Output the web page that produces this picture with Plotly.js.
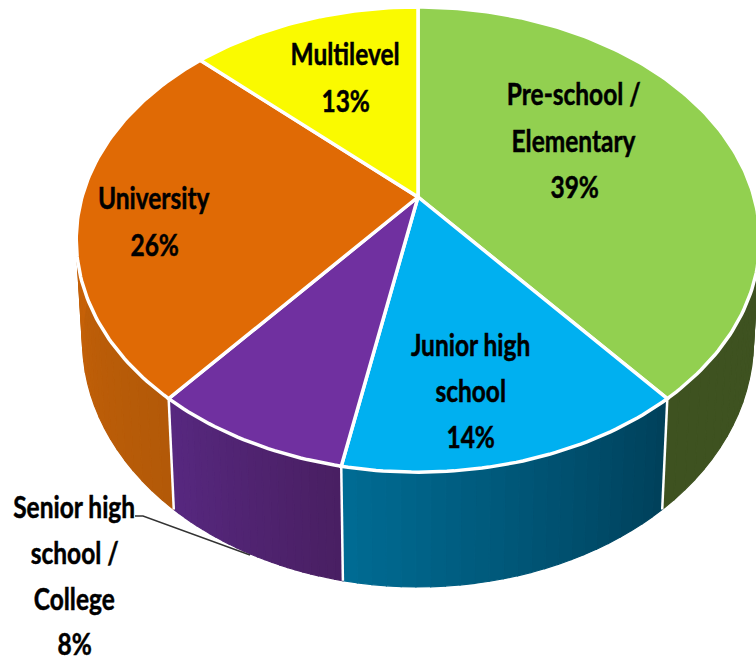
<!DOCTYPE html>
<html>
<head>
<meta charset="utf-8">
<script src="https://cdn.plot.ly/plotly-3.0.1.min.js"></script>
<style>html,body{margin:0;padding:0;background:#fff;overflow:hidden}#chart{width:756px;height:661px}</style>
</head>
<body>
<div id="chart"></div>
<script>
// Share of schools by level, clockwise from twelve o'clock
const categories = ['Pre-school / Elementary', 'Junior high school', 'Senior high school / College', 'University', 'Multilevel'];
const shares = [39, 14, 8, 26, 13];
const topColors = ['#92D050', '#00B0F0', '#7030A0', '#E06A05', '#FAFA00'];
// Wall shading, listed clockwise along each slice
const wallFrom = ['#3E5220', '#00405A', '#491F62', '#B25908', null];
const wallTo = ['#3E5220', '#006C94', '#572880', '#CC6408', null];
// Portion of each wall that faces the viewer, in degrees
const wallLimits = [[78, null], [null, null], [null, null], [null, 280], null];

// Label lines with their centre positions
const labelLines = [
  ['Pre-school /', 574, 92.5], ['Elementary', 574, 139.5], ['39%', 574, 185.5],
  ['Junior high', 470, 343.5], ['school', 470, 389.5], ['14%', 470, 435.5],
  ['Senior high', 74, 505.5], ['school /', 74, 551.5], ['College', 74, 597.5], ['8%', 74, 642.5],
  ['University', 154, 196.5], ['26%', 154, 243.5],
  ['Multilevel', 345, 52.5], ['13%', 345, 99.5]
];
const leaderX = [135, 143, 250];
const leaderY = [516, 516, 555];
const labelSqueeze = 0.79;

// Perspective camera for the disc
const camera = {cx: 418, cy: 197, fx: 336, fy: 224.8, tilt: 0.183, depth: 100.8, shrink: 0.018};

function project(deg, z) {
  const t = deg * Math.PI / 180;
  const X = Math.sin(t), Y = Math.cos(t);
  const w = 1 + camera.tilt * Y + camera.shrink * z;
  return [camera.cx + camera.fx * X / w, camera.cy + (-camera.fy * Y + camera.depth * z) / w];
}
function arc(from, to, z) {
  const n = Math.max(2, Math.ceil(Math.abs(to - from)));
  const pts = [];
  for (let i = 0; i <= n; i++) pts.push(project(from + (to - from) * i / n, z));
  return pts;
}
function mix(a, b, f) {
  const c = s => [1, 3, 5].map(i => parseInt(s.substr(i, 2), 16));
  const A = c(a), B = c(b);
  return 'rgb(' + A.map((v, i) => Math.round(v + (B[i] - v) * f)).join(',') + ')';
}
function poly(pts, fill, lineColor, lineWidth) {
  return {
    x: pts.map(p => p[0]), y: pts.map(p => p[1]),
    type: 'scatter', mode: 'lines', fill: 'toself', fillcolor: fill,
    line: {color: lineColor, width: lineWidth}, hoverinfo: 'skip', showlegend: false
  };
}

const total = shares.reduce((a, b) => a + b, 0);
const bounds = [0];
shares.forEach(v => bounds.push(bounds[bounds.length - 1] + v / total * 360));

const traces = [];

// Outer walls, built from thin strips to carry the shading
shares.forEach((v, i) => {
  if (!wallLimits[i]) return;
  const a = wallLimits[i][0] === null ? bounds[i] : wallLimits[i][0];
  const b = wallLimits[i][1] === null ? bounds[i + 1] : wallLimits[i][1];
  const strips = 24;
  for (let s = 0; s < strips; s++) {
    const p = a + (b - a) * s / strips, q = a + (b - a) * (s + 1) / strips;
    const pts = arc(p, q, 0).concat(arc(q, p, 1));
    pts.push(pts[0]);
    const col = mix(wallFrom[i], wallTo[i], (s + 0.5) / strips);
    traces.push(poly(pts, col, col, 1.2));
  }
});

// Edges between neighbouring walls
[1, 2, 3].forEach(i => {
  const top = project(bounds[i], 0), bottom = project(bounds[i], 1);
  traces.push({
    x: [top[0], bottom[0]], y: [top[1], bottom[1]], type: 'scatter', mode: 'lines',
    line: {color: '#FFFFFF', width: 2.5}, hoverinfo: 'skip', showlegend: false
  });
});

// Top face of the disc
shares.forEach((v, i) => {
  const centre = [camera.cx, camera.cy];
  const pts = [centre].concat(arc(bounds[i], bounds[i + 1], 0));
  pts.push(centre);
  const tr = poly(pts, topColors[i], '#FFFFFF', 3.5);
  tr.name = categories[i];
  traces.push(tr);
});

// Leader for the one label placed outside the disc
traces.push({
  x: leaderX, y: leaderY, type: 'scatter', mode: 'lines',
  line: {color: '#333333', width: 1.4}, hoverinfo: 'skip', showlegend: false
});

const annotations = labelLines.map(l => ({
  text: '<b>' + l[0] + '</b>', x: l[1], y: l[2], xref: 'x', yref: 'y',
  showarrow: false, xanchor: 'center', yanchor: 'middle',
  font: {family: 'Lato, "Open Sans", sans-serif', size: 31, color: '#000000'}
}));

const hidden = {visible: false, fixedrange: true, showgrid: false, zeroline: false};
Plotly.newPlot('chart', traces, {
  width: 756, height: 661,
  margin: {l: 0, r: 0, t: 0, b: 0},
  paper_bgcolor: '#FFFFFF', plot_bgcolor: '#FFFFFF',
  showlegend: false,
  xaxis: Object.assign({range: [0, 756]}, hidden),
  yaxis: Object.assign({range: [661, 0]}, hidden),
  annotations: annotations
}, {displayModeBar: false, staticPlot: true}).then(gd => {
  // Condense and slightly embolden each label about its own centre
  gd.querySelectorAll('.annotation-text').forEach(t => {
    const box = t.getBBox();
    const mid = box.x + box.width / 2;
    t.setAttribute('transform', 'translate(' + mid + ',0) scale(' + labelSqueeze + ',1) translate(' + (-mid) + ',0)');
    t.style.stroke = '#000000';
    t.style.strokeWidth = '0.5px';
  });
});
</script>
</body>
</html>
